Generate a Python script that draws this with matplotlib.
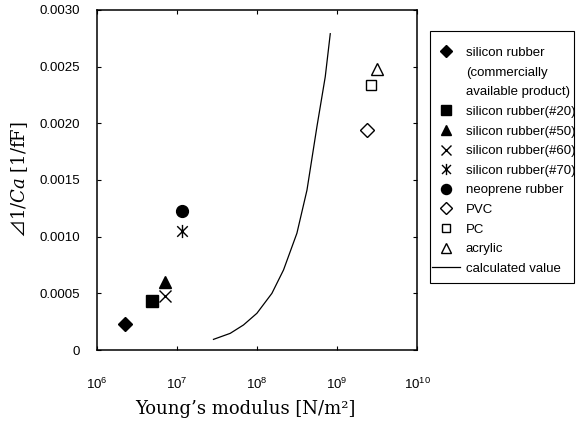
import matplotlib
matplotlib.use("Agg")
import matplotlib.pyplot as plt
from matplotlib.path import Path
from matplotlib.lines import Line2D
from matplotlib.patches import Rectangle
from matplotlib.ticker import FixedLocator, FuncFormatter, NullLocator

plt.rcParams['font.family'] = ['Liberation Sans', 'DejaVu Sans']
plt.rcParams['mathtext.fontset'] = 'custom'
plt.rcParams['mathtext.rm'] = 'DejaVu Serif'
plt.rcParams['mathtext.it'] = 'DejaVu Serif:italic'
plt.rcParams['mathtext.sf'] = 'Noto Sans CJK JP'

sample_names = ["silicon rubber", "silicon rubber(#20)", "silicon rubber(#50)",
                "silicon rubber(#60)", "silicon rubber(#70)", "neoprene rubber",
                "PVC", "PC", "acrylic"]
young = [2.26e6, 4.87e6, 7.2e6, 7.1e6, 1.17e7, 1.17e7, 2.37e9, 2.65e9, 3.18e9]
d_inv_ca = [0.00023, 0.00043, 0.00060, 0.00048, 0.00105, 0.00123,
            0.00194, 0.00234, 0.00248]

# calculated value curve
calc_young = [2.87e7, 4.64e7, 6.8e7, 1.0e8, 1.54e8, 2.15e8, 3.16e8,
              4.22e8, 5.62e8, 7.14e8, 8.25e8]
calc_d_inv_ca = [0.000094, 0.000147, 0.000221, 0.000324, 0.000500, 0.000706,
                 0.00103, 0.00141, 0.00197, 0.00241, 0.00279]

y_ticks = [0, 0.0005, 0.0010, 0.0015, 0.0020, 0.0025, 0.0030]

# asterisk = X with a vertical bar
star = Path([(-1, -1), (1, 1), (-1, 1), (1, -1), (0, -1.25), (0, 1.25)],
            [Path.MOVETO, Path.LINETO, Path.MOVETO, Path.LINETO,
             Path.MOVETO, Path.LINETO])

styles = [
    dict(marker='D', mfc='black', ms=7.0),
    dict(marker='s', mfc='black', ms=8.0),
    dict(marker='^', mfc='black', ms=9.0),
    dict(marker='x', mfc='none', ms=8.5, mew=1.0),
    dict(marker=star, mfc='none', ms=9.5, mew=1.0),
    dict(marker='o', mfc='black', ms=8.5),
    dict(marker='D', mfc='none', ms=7.0, mew=1.0),
    dict(marker='s', mfc='none', ms=7.5, mew=1.0),
    dict(marker='^', mfc='none', ms=9.0, mew=1.0),
]

fig = plt.figure(figsize=(5.76, 4.30), dpi=100)
ax = fig.add_axes([0.168, 0.186, 0.556, 0.791])

handles = []
for i in range(len(young)):
    h, = ax.plot([young[i]], [d_inv_ca[i]], ls='none', color='black',
                 mec='black', **styles[i])
    handles.append(h)

line, = ax.plot(calc_young, calc_d_inv_ca, color='black', lw=0.9)

ax.set_xscale('log')
ax.set_xlim(1e6, 1e10)
ax.set_ylim(0, 0.003)
ax.xaxis.set_minor_locator(NullLocator())
ax.yaxis.set_major_locator(FixedLocator(y_ticks))
ax.yaxis.set_major_formatter(FuncFormatter(lambda v, p: '0' if v == 0 else f'{v:.4f}'))
ax.tick_params(which='both', direction='in', top=True, right=True, length=3,
               width=0.8, labelsize=9.5)
ax.tick_params(axis='x', pad=19)
ax.tick_params(axis='y', pad=12)
for s in ax.spines.values():
    s.set_linewidth(1.1)

ax.set_xlabel("Young\u2019s modulus [N/m\u00b2]", family=['DejaVu Serif', 'DejaVu Sans'],
              fontsize=13)
ax.xaxis.set_label_coords(0.463, -0.147)
ax.set_ylabel("$\\mathsf{\u22bf}\\mathrm{1/}\\mathit{Ca}\\ \\mathrm{[1/fF]}$",
              fontsize=13, labelpad=7)

# legend: first label spread on three rows, marker on the top row
blank = Line2D([], [], ls='none', marker='none')
leg_handles = [handles[0], blank, blank] + handles[1:] + [line]
leg_labels = [sample_names[0], "(commercially", "available product)"] + \
    sample_names[1:] + ["calculated value"]
fig.legend(leg_handles, leg_labels, loc='upper left',
           bbox_to_anchor=(0.75, 0.891), frameon=False, fontsize=9.5,
           borderpad=0, borderaxespad=0, handlelength=2.1, handletextpad=0.45,
           labelspacing=0.56, markerscale=0.85)
fig.patches.append(Rectangle((0.7465, 0.342), 0.25, 0.586, transform=fig.transFigure,
                             fill=False, edgecolor='black', lw=0.8))

fig.savefig("out.png", dpi=100)
